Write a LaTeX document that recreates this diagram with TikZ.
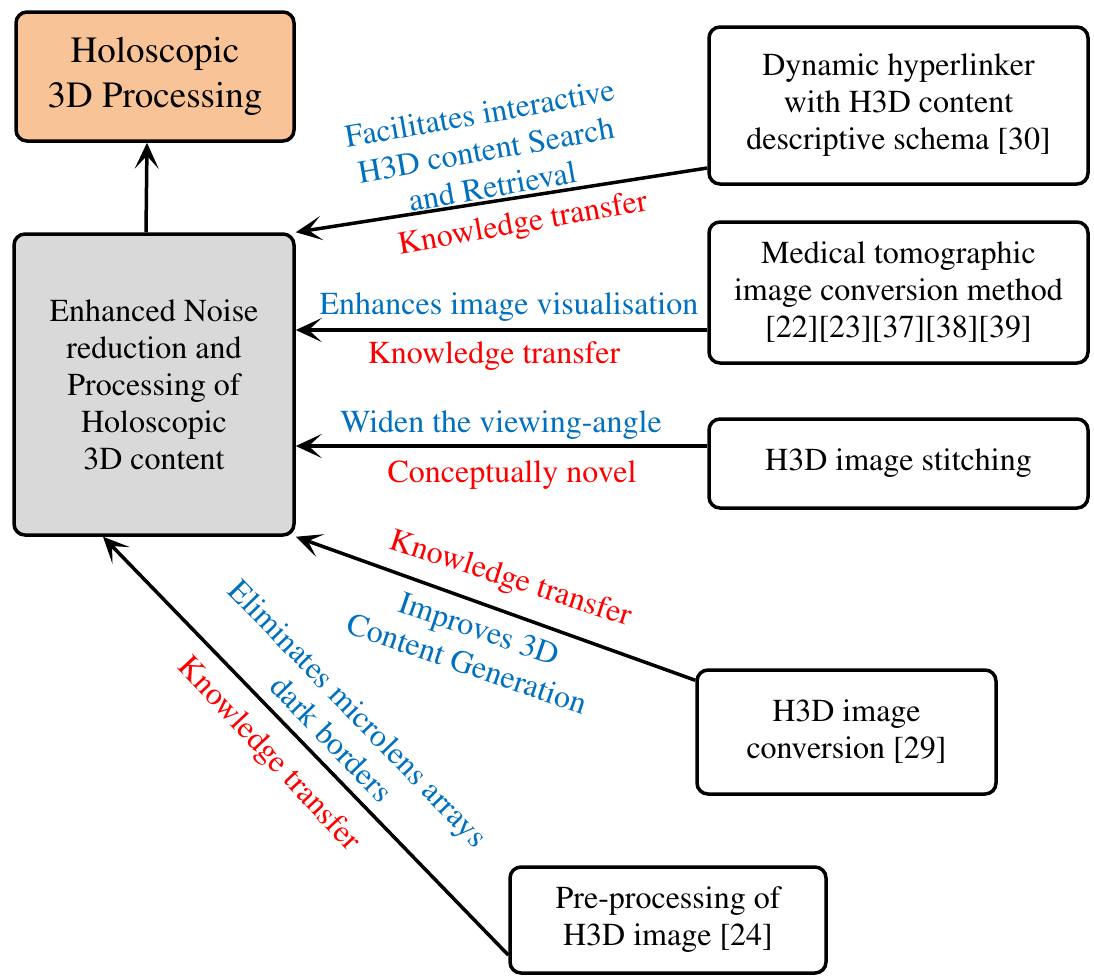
\documentclass[tikz,border=0pt]{standalone}
\usepackage[T1]{fontenc}
\usepackage{mathptmx}
\usetikzlibrary{arrows.meta,calc}
\definecolor{lblblue}{HTML}{0070C0}
\definecolor{lblred}{HTML}{FF0000}
\definecolor{procfill}{HTML}{F8C396}
\definecolor{corefill}{HTML}{D9D9D9}

\begin{document}
\begin{tikzpicture}[x=1pt,y=-1pt,
  box/.style={draw,line width=3.5pt,rounded corners=11pt,align=center,
    inner sep=0pt,font=\fontsize{32}{37}\selectfont},
  link/.style={line width=3.5pt,-{Stealth[length=26pt,width=24pt,inset=13pt]}},
  lbl/.style={align=center,inner sep=0pt,font=\fontsize{32}{37}\selectfont},
  benefit/.style={lbl,text=lblblue},
  relation/.style={lbl,text=lblred}]

\useasboundingbox (0,0) rectangle (1094,978);

% boxes
\node[box,fill=procfill,minimum width=278pt,minimum height=129pt,
      font=\fontsize{37}{45}\selectfont] (h3d) at (155,76.5) {Holoscopic\\3D Processing};
\node[box,fill=corefill,minimum width=280pt,minimum height=301pt] (core) at (154,384.5)
  {Enhanced Noise\\reduction and\\Processing of\\Holoscopic\\3D content};
\node[box,minimum width=379pt,minimum height=157pt] (hyper) at (898.5,105.5)
  {Dynamic hyperlinker\\with H3D content\\descriptive schema [30]};
\node[box,minimum width=379pt,minimum height=141pt] (med) at (898.5,292.5)
  {Medical tomographic\\image conversion method\\{}[22][23][37][38][39]};
\node[box,minimum width=379pt,minimum height=89pt] (stitch) at (898.5,463.5)
  {H3D image stitching};
\node[box,minimum width=299pt,minimum height=124pt] (conv) at (846.5,732)
  {H3D image\\conversion [29]};
\node[box,minimum width=316pt,minimum height=106pt] (pre) at (668,920)
  {Pre-processing of\\H3D image [24]};

% connectors
\draw[link] ([xshift=-8pt]core.north) -- ([xshift=-8pt]h3d.south);
\coordinate (a1) at ([yshift=-62.5pt]hyper.west);
\draw[link] (a1) -- (core.north east);
\coordinate (b1) at ([yshift=-37.5pt]med.west);
\draw[link] (b1) -- (core.east |- b1);
\coordinate (c1) at ([yshift=17.5pt]stitch.west);
\draw[link] (c1) -- (core.east |- c1);
\coordinate (d1) at ([yshift=-12pt]conv.north west);
\draw[link] (d1) -- (core.south east);
\coordinate (e1) at ([yshift=-35pt]pre.west);
\draw[link] (e1) -- ([xshift=-51pt]core.south);

% connector labels
\node[benefit,rotate=10] (lA1) at (486,150) {Facilitates interactive\\H3D content Search\\and Retrieval};
\node[relation,rotate=10] (lA2) at (523,225) {Knowledge transfer};
\node[benefit,anchor=base] (lB1) at (509,314) {Enhances image visualisation};
\node[relation,anchor=base] (lB2) at (494,363) {Knowledge transfer};
\node[benefit,anchor=base] (lC1) at (501,432) {Widen the viewing-angle};
\node[relation,anchor=base] (lC2) at (512,482) {Conceptually novel};
\node[relation,rotate=-18] (lD1) at (510,580) {Knowledge transfer};
\node[benefit,rotate=-19] (lD2) at (473,646) {Improves 3D\\Content Generation};
\node[relation,rotate=-47] (lE1) at (268,755) {Knowledge transfer};
\node[benefit,rotate=-46] (lE2) at (345,726) {Eliminates microlens arrays\\dark borders};
\end{tikzpicture}
\end{document}
